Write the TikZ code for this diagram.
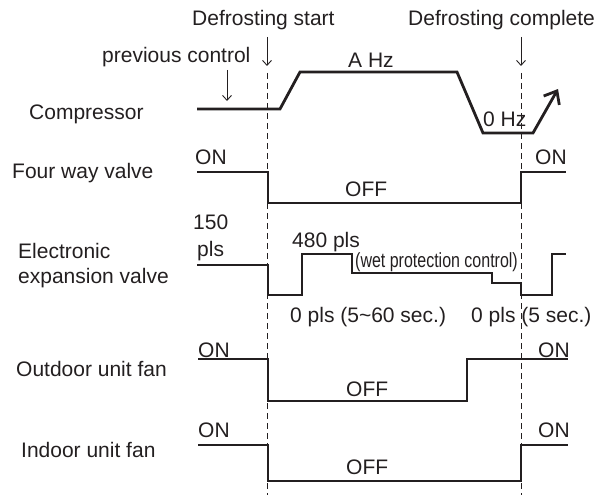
\documentclass[tikz,border=0pt]{standalone}
\usepackage{fontspec}
\setmainfont{Liberation Sans}
\usetikzlibrary{arrows.meta}
\definecolor{ink}{HTML}{231F20}
\tikzset{
  lbl/.style={anchor=base west, inner sep=0pt, text=ink, font=\fontsize{21}{24}\selectfont},
  wave/.style={draw=ink, line width=2.8pt, line join=miter},
  guide/.style={draw=ink, line width=0.9pt, dash pattern=on 6pt off 4pt},
  pointer/.style={draw=ink, line width=0.9pt, -{Straight Barb[length=5pt,width=9pt]}}
}
\begin{document}
\begin{tikzpicture}[x=1pt,y=-1pt]
\useasboundingbox (0,0) rectangle (600,495);
% labels on the left
\node[lbl] (comp) at (29,119) {Compressor};
\node[lbl] (fwv) at (12,178) {Four way valve};
\node[lbl] (eev1) at (18,258) {Electronic};
\node[lbl] (eev2) at (18,283) {expansion valve};
\node[lbl] (ofan) at (16,376) {Outdoor unit fan};
\node[lbl] (ifan) at (21,457) {Indoor unit fan};
% top labels
\node[lbl] (dstart) at (192,26) {Defrosting start};
\node[lbl] (dcomp) at (408,26) {Defrosting complete};
\node[lbl] (prev) at (102,63) {previous control};
% pointer coordinates
\coordinate (ps1) at (267,37); \coordinate (pe1) at (267,66);
\coordinate (ps2) at (521,37); \coordinate (pe2) at (521,66);
\coordinate (ps3) at (227,70); \coordinate (pe3) at (227,101);
\draw[pointer] (ps1) -- (pe1);
\draw[pointer] (ps2) -- (pe2);
\draw[pointer] (ps3) -- (pe3);
% dashed guides
\coordinate (g1t) at (267,73); \coordinate (g1b) at (267,495);
\coordinate (g2t) at (521,73); \coordinate (g2b) at (521,495);
\draw[guide] (g1t) -- (g1b);
\draw[guide] (g2t) -- (g2b);
% compressor
\draw[wave, -{Straight Barb[length=11pt,width=18pt,line width=2.8pt]}]
  (197,109) -- (280,109) -- (300,72) -- (457,72) -- (483,133) -- (533,133) -- (558,89);
\node[lbl] (ahz) at (348,67) {A Hz};
\node[lbl] (zhz) at (483,126) {0 Hz};
% four way valve
\draw[wave] (197,172) -- (268,172) -- (268,203) -- (521,203) -- (521,172) -- (566,172);
\node[lbl] (fon1) at (195,164) {ON};
\node[lbl] (fon2) at (535,164) {ON};
\node[lbl] (foff) at (345,196) {OFF};
% electronic expansion valve
\draw[wave] (197,265) -- (268,265) -- (268,295) -- (302,295) -- (302,254) -- (352,254) -- (352,273) -- (492,273) -- (492,283) -- (521,283) -- (521,295) -- (552,295) -- (552,254) -- (566,254);
\node[lbl] (e150) at (193,229) {150};
\node[lbl] (epls) at (197,256) {pls};
\node[lbl] (e480) at (292,247) {480 pls};
\node[lbl, font=\fontsize{20.5}{22}\selectfont] (ewet) at (355,267) {\scalebox{0.78}[1]{(wet protection control)}};
\node[lbl] (e0a) at (290,322) {0 pls (5\textasciitilde 60 sec.)};
\node[lbl] (e0b) at (471,322) {0 pls (5 sec.)};
% outdoor unit fan
\draw[wave] (198,359) -- (268,359) -- (268,401) -- (467,401) -- (467,359) -- (568,359);
\node[lbl] (oon1) at (198,357) {ON};
\node[lbl] (oon2) at (538,357) {ON};
\node[lbl] (ooff) at (346,396) {OFF};
% indoor unit fan
\draw[wave] (198,445) -- (268,445) -- (268,481) -- (521,481) -- (521,445) -- (568,445);
\node[lbl] (ion1) at (198,437) {ON};
\node[lbl] (ion2) at (538,437) {ON};
\node[lbl] (ioff) at (346,474) {OFF};
\end{tikzpicture}
\end{document}
